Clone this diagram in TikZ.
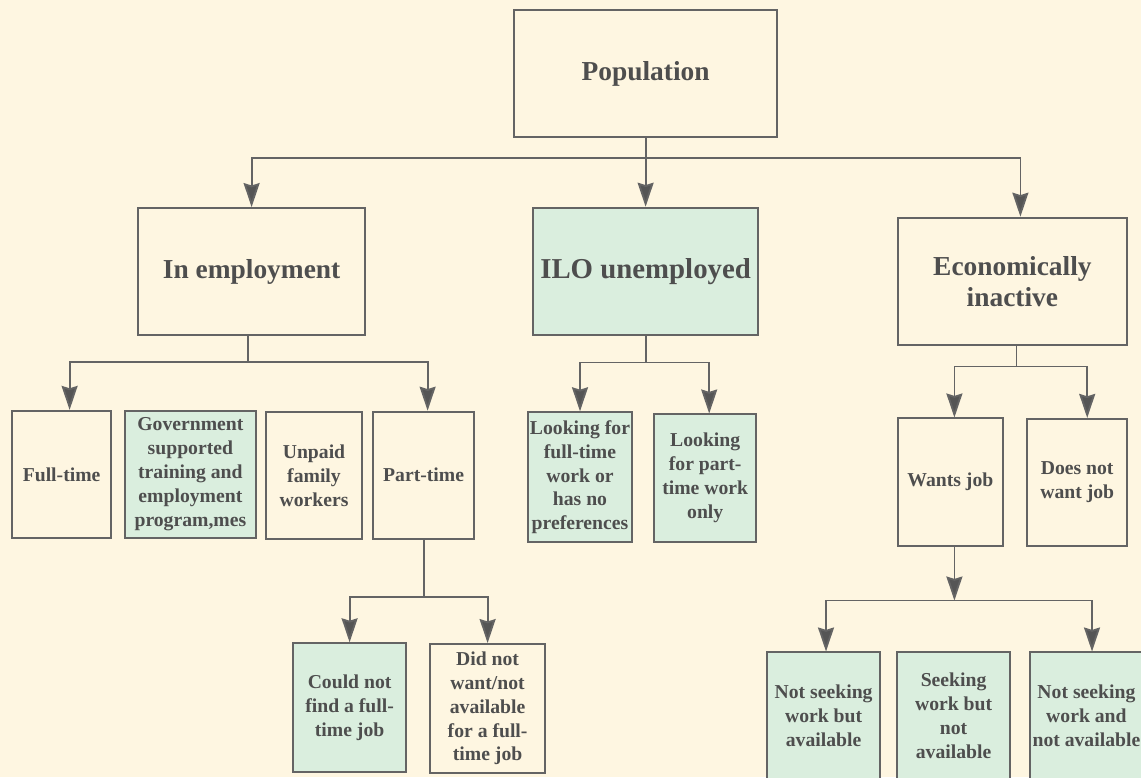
\documentclass[tikz,border=0pt]{standalone}
\usepackage{fontspec}
\setmainfont{Liberation Serif}
\usetikzlibrary{arrows.meta, calc}
\definecolor{paper}{RGB}{254, 246, 225}
\definecolor{mint}{RGB}{218, 238, 222}
\definecolor{edge}{RGB}{100, 100, 100}
\definecolor{ink}{RGB}{78, 78, 78}
\definecolor{tip}{RGB}{85, 85, 85}

\begin{document}
\begin{tikzpicture}[
    bigbox/.style={
        rectangle, draw=edge, fill=#1,
        line width=1.3pt, text=ink,
        font=\fontsize{19.5}{22}\selectfont\bfseries,
        minimum width=5.65cm, minimum height=3.18cm,
        inner sep=2pt, align=center,
    },
    bigbox/.default=paper,
    smallbox/.style={
        rectangle, draw=edge, fill=#1,
        line width=1.3pt, text=ink,
        font=\fontsize{14}{17}\selectfont\bfseries,
        minimum height=3.18cm,
        inner sep=1pt, align=center,
    },
    smallbox/.default=paper,
    link/.style={line width=1.3pt, draw=edge},
    flow/.style={
        link,
        -{Stealth[length=0.6cm, width=0.4cm, inset=0.06cm, fill=tip]},
    },
]

% background and page size
\fill[paper] (0, 0) rectangle (28.525, -19.425);
\useasboundingbox (0, 0) rectangle (28.525, -19.425);

% =============== Top ===============
\node[bigbox, minimum width=6.575cm] (pop) at (16.14, -1.84) {Population};

% =============== Second row ===============
\node[bigbox, minimum width=5.675cm] (emp) at (6.29, -6.79) {In employment};
\node[bigbox=mint, minimum width=5.625cm,
      font=\fontsize{20.5}{23}\selectfont\bfseries] (ilo) at (16.14, -6.78) {ILO unemployed};
\node[bigbox, minimum width=5.725cm] (eco) at (25.31, -7.03) {Economically\\inactive};

% =============== In employment ===============
\node[smallbox, minimum width=2.475cm] (ft)  at (1.54, -11.86) {Full-time};
\node[smallbox=mint, minimum width=3.275cm] (gov) at (4.76, -11.86)
    {Government\\supported\\training and\\employment\\program,mes};
\node[smallbox, minimum width=2.4cm] (unp) at (7.85, -11.89) {Unpaid\\family\\workers};
\node[smallbox, minimum width=2.525cm] (pt) at (10.59, -11.88) {Part-time};

% =============== ILO unemployed ===============
\node[smallbox=mint, minimum width=2.6cm, minimum height=3.25cm] (lft) at (14.5, -11.93)
    {Looking for\\full-time\\work or\\has no\\preferences};
\node[smallbox=mint, minimum width=2.55cm] (lpt) at (17.63, -11.95)
    {Looking\\for part-\\time work\\only};

% =============== Economically inactive ===============
\node[smallbox, minimum width=2.625cm] (want)   at (23.76, -12.05) {Wants job};
\node[smallbox, minimum width=2.5cm]   (nowant) at (26.93, -12.06) {Does not\\want job};

% =============== Part-time ===============
\node[smallbox=mint, minimum width=2.825cm, minimum height=3.22cm] (cnf) at (8.74, -17.69)
    {Could not\\find a full-\\time job};
\node[smallbox, minimum width=2.875cm, minimum height=3.22cm] (dnw) at (12.19, -17.71)
    {Did not\\want/not\\available\\for a full-\\time job};

% =============== Wants job ===============
\node[smallbox=mint, minimum width=2.825cm] (nsa)  at (20.59, -17.9)
    {Not seeking\\work but\\available};
\node[smallbox=mint, minimum width=2.825cm] (swna) at (23.84, -17.9)
    {Seeking\\work but\\not\\available};
\node[smallbox=mint, minimum width=2.825cm] (nsna) at (27.16, -17.9)
    {Not seeking\\work and\\not available};

% =============== Branch points ===============
\coordinate (popbar) at ($(pop.south)+(0, -0.5)$);
\coordinate (empbar) at ($(emp.south)+(-0.1, -0.65)$);
\coordinate (ilobar) at ($(ilo.south)+(0, -0.67)$);
\coordinate (ecobar) at ($(eco.south)+(0.1, -0.52)$);
\coordinate (ptbar)  at ($(pt.south)+(0, -1.43)$);
\coordinate (wbar)   at ($(want.south)+(0.1, -1.35)$);

% =============== Connectors ===============
\draw[link] (pop.south) -- (popbar);
\draw[flow] (popbar) -| (emp.north);
\draw[flow] (popbar) -- (ilo.north);
\draw[flow] (popbar) -| ([xshift=0.2cm]eco.north);

\draw[link] (emp.south -| empbar) -- (empbar);
\draw[flow] (empbar) -| ([xshift=0.2cm]ft.north);
\draw[flow] (empbar) -| ([xshift=0.1cm]pt.north);

\draw[link] (ilo.south) -- (ilobar);
\draw[flow] (ilobar) -| (lft.north);
\draw[flow] (ilobar) -| ([xshift=0.1cm]lpt.north);

\draw[link] (eco.south -| ecobar) -- (ecobar);
\draw[flow] (ecobar) -| ([xshift=0.1cm]want.north);
\draw[flow] (ecobar) -| ([xshift=0.25cm]nowant.north);

\draw[link] (pt.south) -- (ptbar);
\draw[flow] (ptbar) -| (cnf.north);
\draw[flow] (ptbar) -| (dnw.north);

\draw[flow] (want.south -| wbar) -- (wbar);
\draw[flow] (wbar) -| ([xshift=0.06cm]nsa.north);
\draw[flow] (wbar) -| ([xshift=0.14cm]nsna.north);

\end{tikzpicture}
\end{document}
